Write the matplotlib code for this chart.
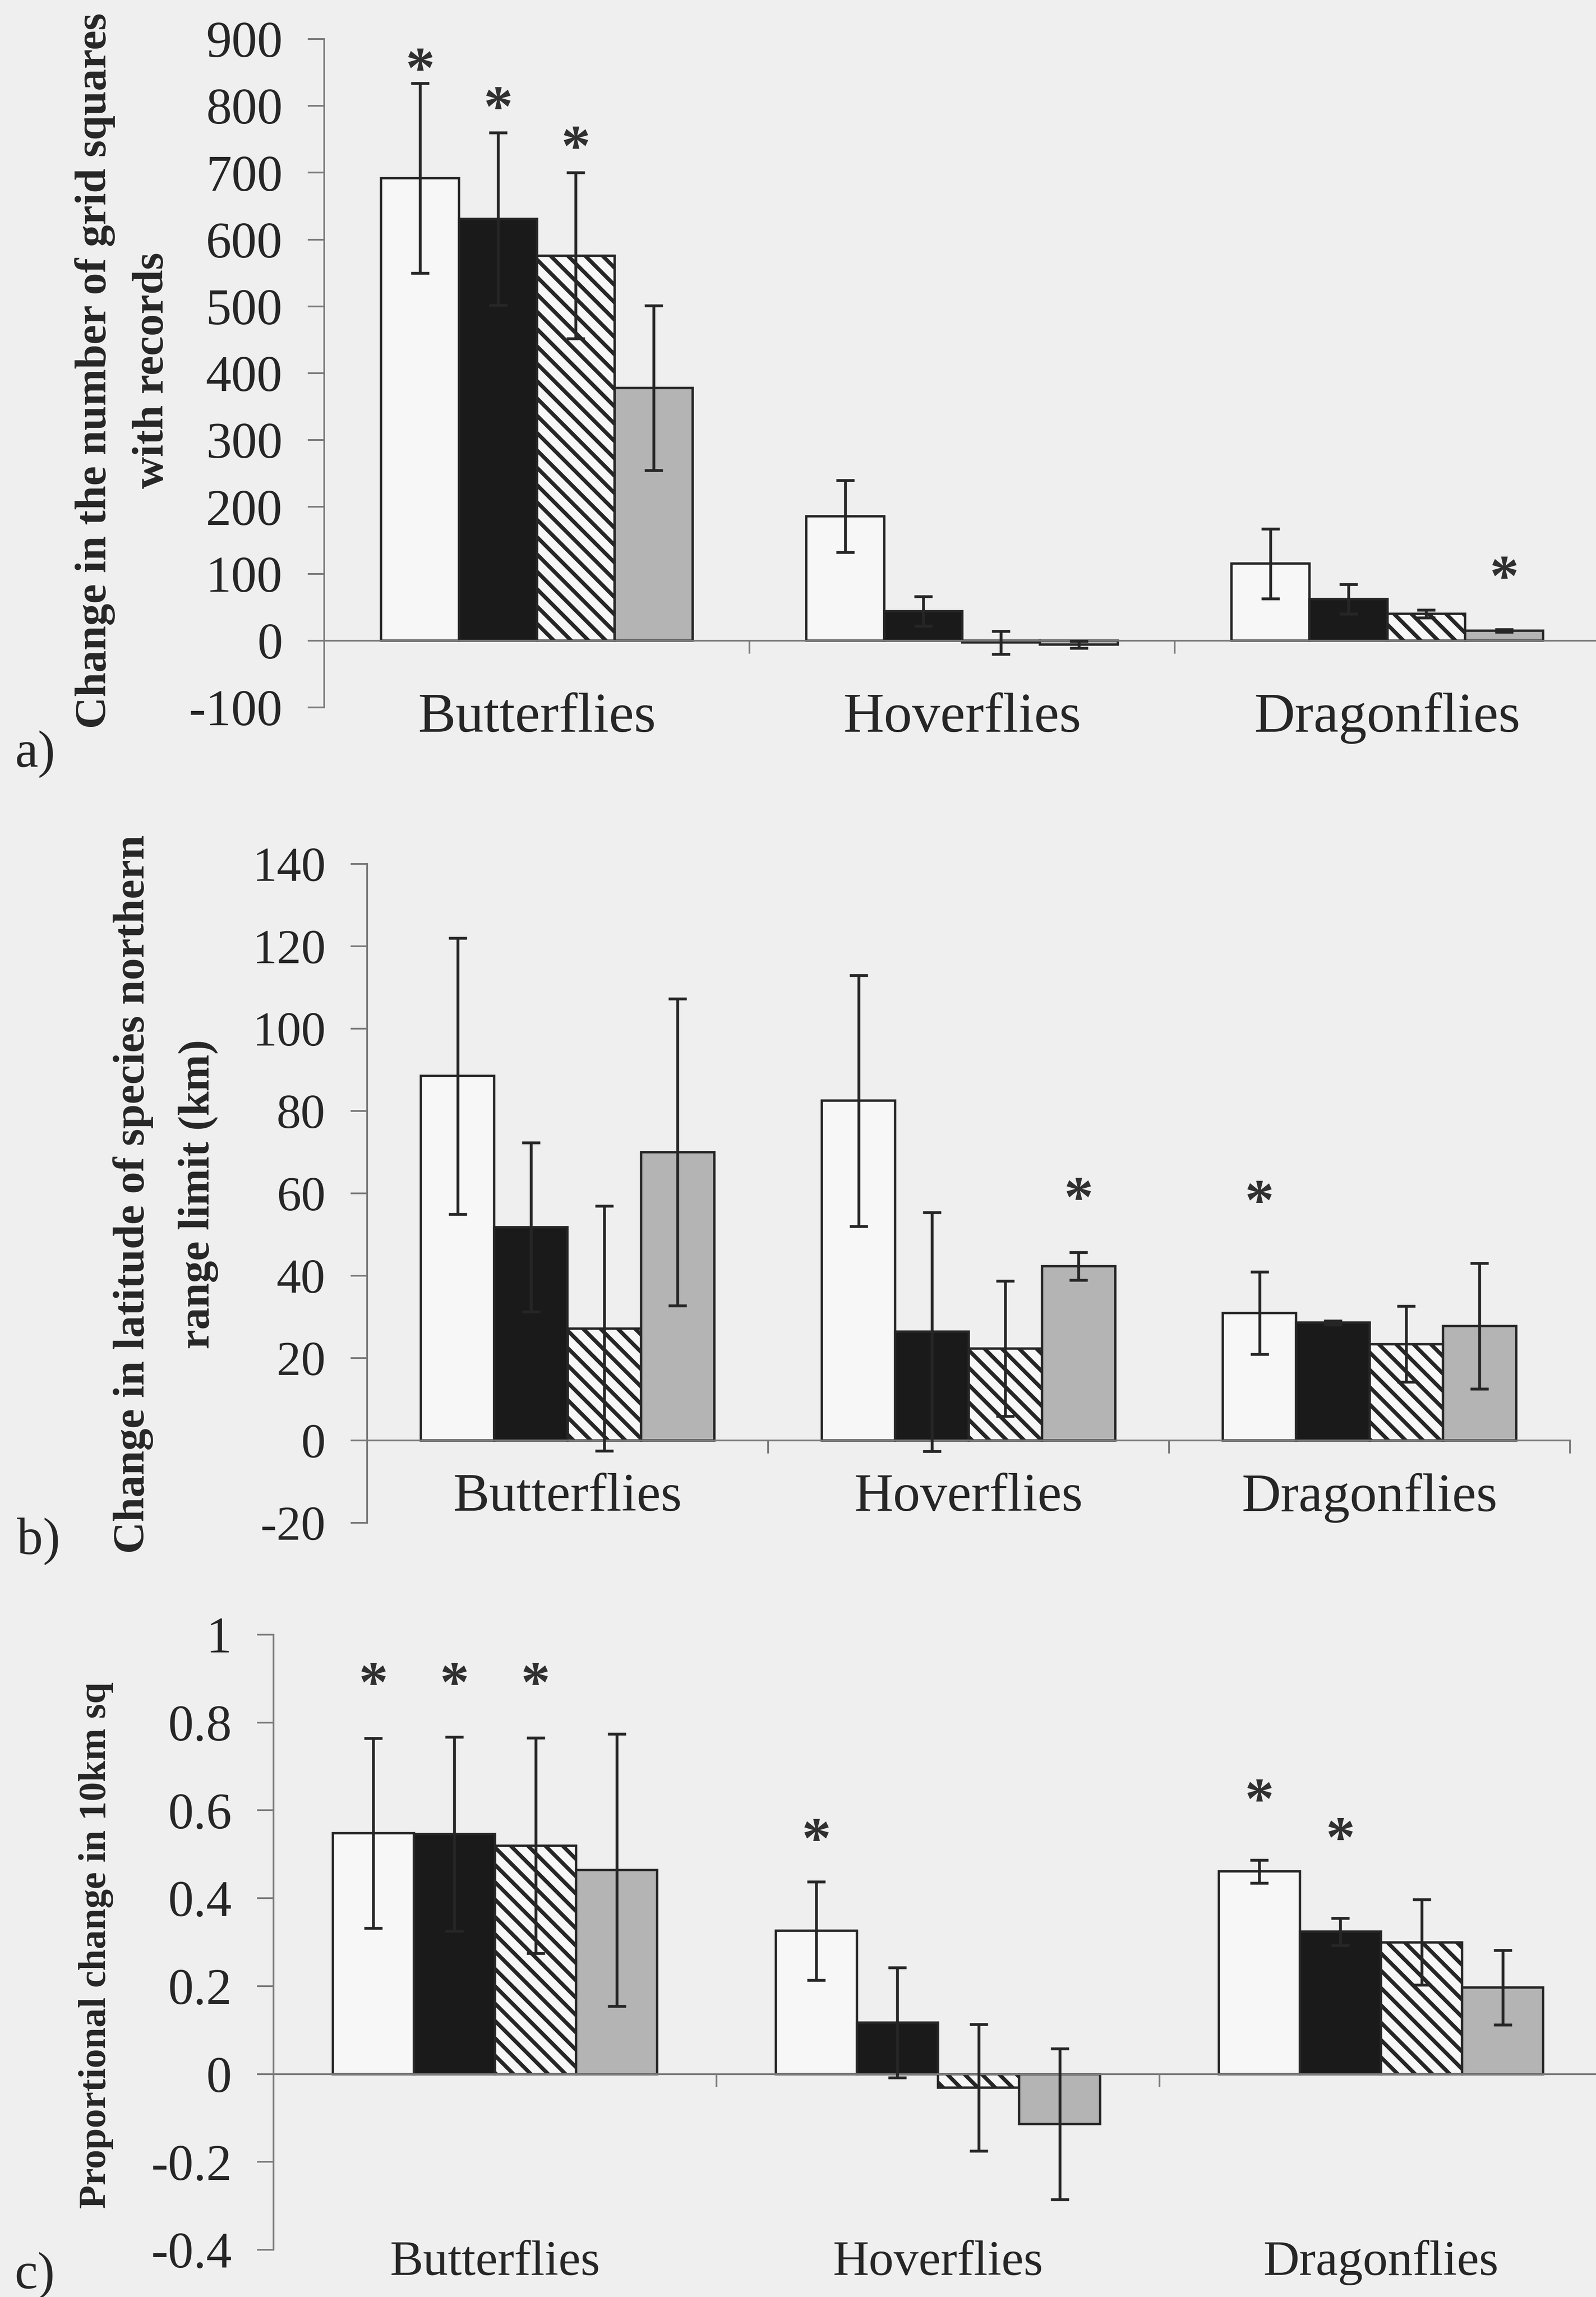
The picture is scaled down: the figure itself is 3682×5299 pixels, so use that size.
import matplotlib
matplotlib.use("Agg")
import matplotlib.pyplot as plt
import numpy as np

# ---------------- data ----------------
categories = ["Butterflies", "Hoverflies", "Dragonflies"]

# panel a: change in number of grid squares with records
a_vals = [[692, 631, 576, 378], [186, 44, -3, -6], [115, 62, 40, 15]]
a_err = [[142, 129, 124, 123], [54, 22, 17, 5], [52, 22, 6, 2]]
a_stars = [[867, 809, 750, None], [None, None, None, None], [None, None, None, 107]]
a_ticks = [-100, 0, 100, 200, 300, 400, 500, 600, 700, 800, 900]
a_ticklabels = ["-100", "0", "100", "200", "300", "400", "500", "600", "700", "800", "900"]

# panel b: change in latitude of northern range limit (km)
b_vals = [[88.5, 51.8, 27.2, 70.0], [82.5, 26.4, 22.3, 42.3], [31.0, 28.6, 23.4, 27.8]]
b_err = [[33.5, 20.5, 29.7, 37.3], [30.5, 29.0, 16.4, 3.4], [10.0, 0.5, 9.2, 15.3]]
b_stars = [[None, None, None, None], [None, None, None, 60.7], [60.0, None, None, None]]
b_ticks = [-20, 0, 20, 40, 60, 80, 100, 120, 140]
b_ticklabels = ["-20", "0", "20", "40", "60", "80", "100", "120", "140"]

# panel c: proportional change in 10km sq
c_vals = [[0.548, 0.546, 0.520, 0.464], [0.326, 0.117, -0.031, -0.114], [0.461, 0.324, 0.300, 0.197]]
c_err = [[0.216, 0.221, 0.245, 0.310], [0.112, 0.125, 0.144, 0.172], [0.026, 0.031, 0.097, 0.085]]
c_stars = [[0.907, 0.907, 0.907, None], [0.552, None, None, None], [0.642, 0.554, None, None]]
c_ticks = [-0.4, -0.2, 0, 0.2, 0.4, 0.6, 0.8, 1.0]
c_ticklabels = ["-0.4", "-0.2", "0", "0.2", "0.4", "0.6", "0.8", "1"]

# ---------------- style ----------------
DPI = 120
W, H = 3682, 5299


def P(px):
    """pixels -> points at the output dpi"""
    return px * 72.0 / DPI


plt.rcParams["font.family"] = ["Liberation Serif", "DejaVu Serif"]
plt.rcParams["axes.unicode_minus"] = False
plt.rcParams["hatch.linewidth"] = P(9)

BG = "#efefef"
EDGE = "#262626"
SPINE = "#7a7a7a"
TXT = "#262626"
fills = ["#f7f7f7", "#1a1a1a", "#f7f7f7", "#b4b4b4"]
hatches = [None, None, "\\", None]

fig = plt.figure(figsize=(W / DPI, H / DPI), dpi=DPI, facecolor=BG)

bar_w = 0.183


def panel(rect, vals, errs, stars, ticks, ticklabels, ylim,
          tick_px, cat_px, cat_y):
    ax = fig.add_axes(rect)
    ax.set_facecolor("none")
    ax.set_xlim(0, 3)
    ax.set_ylim(*ylim)
    for ci, cat in enumerate(categories):
        center = ci + 0.5
        for si in range(4):
            x = center + (si - 1.5) * bar_w
            ax.bar(x, vals[ci][si], width=bar_w, color=fills[si], edgecolor=EDGE,
                   linewidth=P(5.5), hatch=hatches[si], zorder=2)
            ax.errorbar(x, vals[ci][si], yerr=errs[ci][si], fmt="none",
                        ecolor=EDGE, elinewidth=P(6.5), capsize=P(21), capthick=P(6.5),
                        zorder=3)
            s = stars[ci][si]
            if s is not None:
                ax.annotate("*", xy=(x, s), xytext=(0, P(-60)), textcoords="offset points",
                            ha="center", va="baseline", fontsize=P(135), color="#303030",
                            fontweight="bold", zorder=4)
        ax.text(center, cat_y, cat, transform=ax.get_xaxis_transform(),
                ha="center", va="center", fontsize=P(cat_px), color=TXT)
    for sp in ["top", "right"]:
        ax.spines[sp].set_visible(False)
    ax.spines["left"].set_color(SPINE)
    ax.spines["left"].set_linewidth(P(4))
    ax.spines["bottom"].set_position(("data", 0))
    ax.spines["bottom"].set_color(SPINE)
    ax.spines["bottom"].set_linewidth(P(4))
    ax.set_yticks(ticks)
    ax.set_yticklabels(ticklabels)
    ax.tick_params(axis="y", direction="out", length=P(38), width=P(4), color=SPINE,
                   pad=P(58), labelsize=P(tick_px), labelcolor=TXT)
    ax.set_xticks([1, 2, 3])
    ax.set_xticklabels([])
    ax.tick_params(axis="x", direction="out", length=P(30), width=P(4), color=SPINE)
    return ax


panel([748 / W, 1 - 1632 / H, 2943 / W, (1632 - 90) / H], a_vals, a_err, a_stars,
      a_ticks, a_ticklabels, (-100, 900), 118, 130, -0.016)
panel([847 / W, 1 - 3513 / H, 2775 / W, (3513 - 1993) / H], b_vals, b_err, b_stars,
      b_ticks, b_ticklabels, (-20, 140), 113, 125, 0.038)
panel([631 / W, 1 - 5190 / H, 3066 / W, (5190 - 3771) / H], c_vals, c_err, c_stars,
      c_ticks, c_ticklabels, (-0.4, 1.0), 118, 115, -0.021)

# y-axis titles
fig.text(285 / W, 1 - 855 / H, "Change in the number of grid squares\nwith records",
         rotation=90, ha="center", va="center", multialignment="center",
         fontsize=P(102), fontweight="bold", color=TXT, linespacing=1.55)
fig.text(382 / W, 1 - 2755 / H, "Change in latitude of species northern\nrange limit (km)",
         rotation=90, ha="center", va="center", multialignment="center",
         fontsize=P(102), fontweight="bold", color=TXT, linespacing=1.8)
fig.text(221 / W, 1 - 4488 / H, "Proportional change in 10km sq",
         rotation=90, ha="center", va="center",
         fontsize=P(89), fontweight="bold", color=TXT)

# panel letters
fig.text(81 / W, 1 - 1740 / H, "a)", ha="center", va="center", fontsize=P(120), color=TXT)
fig.text(89 / W, 1 - 3555 / H, "b)", ha="center", va="center", fontsize=P(120), color=TXT)
fig.text(80 / W, 1 - 5250 / H, "c)", ha="center", va="center", fontsize=P(120), color=TXT)

fig.savefig("out.png", dpi=DPI, facecolor=BG)
